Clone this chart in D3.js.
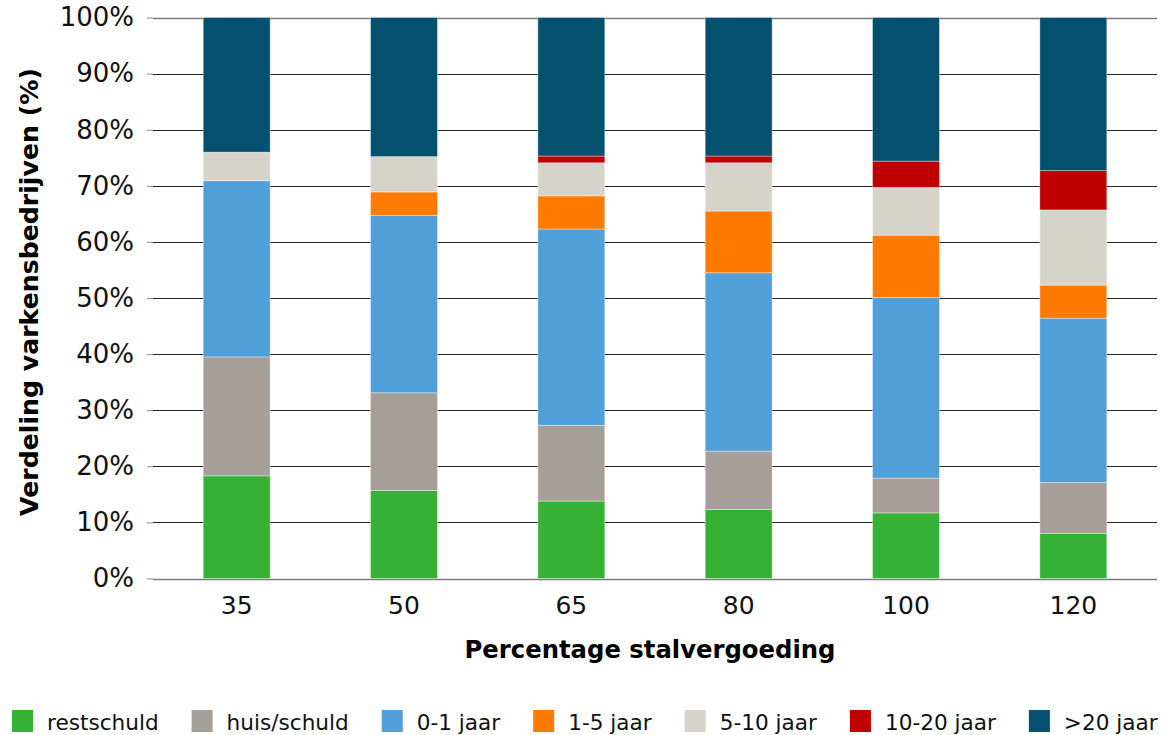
<!DOCTYPE html>
<html>
<head>
<meta charset="utf-8">
<script src="https://cdn.jsdelivr.net/npm/d3@7"></script>
<style>
  html, body { margin: 0; padding: 0; background: #fff; }
  svg { display: block; font-family: "DejaVu Sans", Verdana, sans-serif; }
</style>
</head>
<body>
<svg id="chart" width="1169" height="735"></svg>
<script>
// ---- data ----
const categories = ["35", "50", "65", "80", "100", "120"];
const seriesNames = ["restschuld", "huis/schuld", "0-1 jaar", "1-5 jaar", "5-10 jaar", "10-20 jaar", ">20 jaar"];
const seriesColors = ["#35b135", "#a69e98", "#519fd8", "#ff7b00", "#d6d3cb", "#c00000", "#03516f"];
const restschuld = [18.3, 15.7, 13.8, 12.3, 11.7, 8.0];
const huisSchuld = [21.2, 17.4, 13.5, 10.4, 6.2, 9.1];
const jaar0tot1 = [31.4, 31.6, 35.0, 31.8, 32.2, 29.3];
const jaar1tot5 = [0, 4.2, 5.9, 11.0, 11.1, 5.9];
const jaar5tot10 = [5.1, 6.3, 5.9, 8.6, 8.5, 13.4];
const jaar10tot20 = [0, 0, 1.2, 1.2, 4.7, 7.0];
const jaar20plus = [24.0, 24.8, 24.7, 24.7, 25.6, 27.3];
const yTicks = [0, 10, 20, 30, 40, 50, 60, 70, 80, 90, 100];
const xTitle = "Percentage stalvergoeding";
const yTitle = "Verdeling varkensbedrijven (%)";

const seriesValues = [restschuld, huisSchuld, jaar0tot1, jaar1tot5, jaar5tot10, jaar10tot20, jaar20plus];

// ---- layout ----
const svg = d3.select("#chart");
const plotLeft = 153, plotRight = 1157, plotTop = 17.5, plotBottom = 578.5;

const x = d3.scaleBand().domain(categories).range([plotLeft, plotRight]).paddingInner(0.6).paddingOuter(0.3);
const y = d3.scaleLinear().domain([0, 100]).range([plotBottom, plotTop]);

// table for stacking
const table = categories.map((c, i) => {
  const row = { cat: c };
  seriesNames.forEach((s, j) => row[s] = seriesValues[j][i]);
  return row;
});
const stacked = d3.stack().keys(seriesNames)(table);

// gridlines
svg.append("g").selectAll("line").data(yTicks).join("line")
  .attr("x1", plotLeft).attr("x2", plotRight)
  .attr("y1", d => Math.round(y(d)) + 0.5).attr("y2", d => Math.round(y(d)) + 0.5)
  .attr("stroke", d => (d === 0 || d === 100) ? "#7a7a7a" : "#262626")
  .attr("stroke-width", d => (d === 0 || d === 100) ? 1.5 : 1);

// bars
svg.append("g").selectAll("g").data(stacked).join("g")
  .attr("fill", (d, i) => seriesColors[i])
  .selectAll("rect").data(d => d).join("rect")
  .attr("x", d => x(d.data.cat))
  .attr("width", x.bandwidth())
  .attr("y", d => y(d[1]))
  .attr("height", d => Math.max(0, y(d[0]) - y(d[1])))
  .attr("stroke", "rgba(255,255,255,0.45)")
  .attr("stroke-width", d => (d[1] - d[0]) > 0 ? 0.8 : 0);

// y axis
const yAxis = d3.axisLeft(y).tickValues(yTicks).tickFormat(d => d + "%").tickSize(6).tickPadding(13);
const gy = svg.append("g").attr("transform", `translate(${plotLeft},0)`).call(yAxis);
gy.select(".domain").remove();
gy.selectAll(".tick line").attr("stroke", "#8a8a8a");
gy.selectAll(".tick text").attr("font-size", 26).attr("fill", "#111")
  .attr("font-family", "DejaVu Sans, Verdana, sans-serif");

// x axis
const xAxis = d3.axisBottom(x).tickSize(0).tickPadding(18);
const gx = svg.append("g").attr("transform", `translate(0,${plotBottom})`).call(xAxis);
gx.select(".domain").remove();
gx.selectAll(".tick text").attr("font-size", 25).attr("fill", "#111")
  .attr("font-family", "DejaVu Sans, Verdana, sans-serif");

// titles
svg.append("text").attr("x", 650).attr("y", 658).attr("text-anchor", "middle")
  .attr("font-size", 24.3).attr("font-weight", "bold").attr("fill", "#000").text(xTitle);
svg.append("text").attr("transform", "translate(38,292) rotate(-90)").attr("text-anchor", "middle")
  .attr("font-size", 25.2).attr("font-weight", "bold").attr("fill", "#000").text(yTitle);

// legend
const legend = svg.append("g");
let lx = 12;
seriesNames.forEach((name, i) => {
  legend.append("rect").attr("x", lx).attr("y", 710).attr("width", 21).attr("height", 22)
    .attr("fill", seriesColors[i]);
  const t = legend.append("text").attr("x", lx + 35).attr("y", 730)
    .attr("font-size", 21.6).attr("fill", "#111").text(name);
  const w = t.node().getComputedTextLength();
  lx = lx + 35 + w + 33;
});
</script>
</body>
</html>
